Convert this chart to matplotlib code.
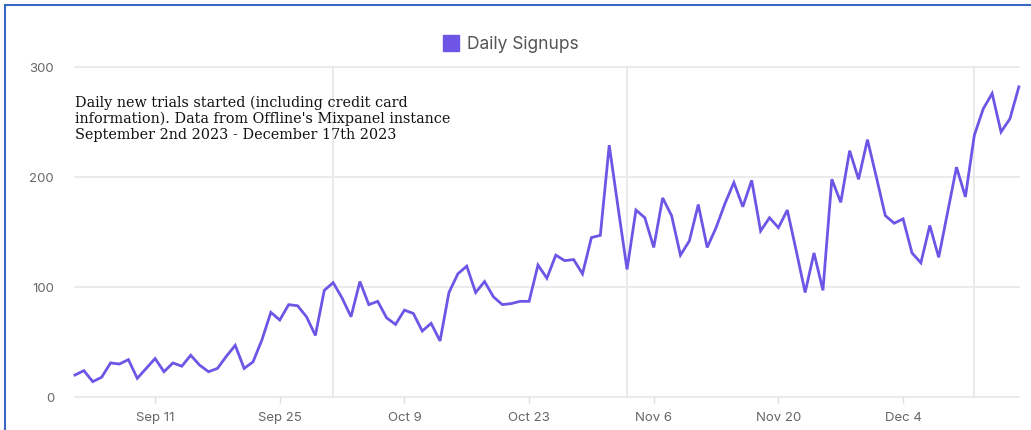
import numpy as np
import pandas as pd
import matplotlib
matplotlib.use("Agg")
import matplotlib.pyplot as plt
from matplotlib.lines import Line2D
from matplotlib.patches import Rectangle

# daily signups, Sep 2 - Dec 17 2023
sep = [20, 24, 14, 18, 31, 30, 34, 17, 26, 35, 23, 31, 28, 38, 29, 23, 26, 37, 47, 26,
       32, 52, 77, 70, 84, 83, 73, 56, 97]
octo = [104, 90, 73, 105, 84, 87, 72, 66, 79, 76, 60, 67, 51, 95, 112, 119, 95, 105, 91, 84,
        85, 87, 87, 120, 108, 129, 124, 125, 112, 145, 147]
nov = [229, 172, 116, 170, 163, 136, 181, 165, 129, 142, 175, 136, 154, 176, 195, 173, 197, 151,
       163, 154, 170, 133, 95, 131, 97, 198, 177, 224, 198, 234]
dec = [200, 165, 158, 162, 131, 122, 156, 127, 168, 209, 182, 238, 262, 276, 241, 253, 282]

signups = sep + octo + nov + dec
days = pd.date_range("2023-09-02", periods=len(signups), freq="D")
tick_days = pd.date_range("2023-09-11", "2023-12-04", freq="14D")
marker_days = pd.to_datetime(["2023-10-01", "2023-11-03", "2023-12-12"])
y_ticks = [0, 100, 200, 300]

note = ("Daily new trials started (including credit card\n"
        "information). Data from Offline's Mixpanel instance\n"
        "September 2nd 2023 - December 17th 2023")

purple = "#6f55e6"
grid_c = "#e8e8e8"
label_c = "#666666"

plt.rcParams["font.family"] = ["Inter", "DejaVu Sans"]

fig = plt.figure(figsize=(10.31, 4.30), dpi=100)
ax = fig.add_axes([0.0727, 0.0767, 0.9155, 0.7673])

for d in marker_days:
    ax.axvline(d, color=grid_c, lw=1.3, zorder=1)
for v in y_ticks:
    ax.axhline(v, color=grid_c, lw=1.2, zorder=1, clip_on=False)

ax.plot(days, signups, color=purple, lw=2.0, zorder=3, clip_on=False,
        solid_joinstyle="miter")

ax.set_xlim(days[0], days[-1])
ax.set_ylim(0, 300)
ax.set_yticks(y_ticks)
ax.set_yticklabels([str(v) for v in y_ticks])
ax.set_xticks(tick_days)
ax.set_xticklabels([f"{d:%b} {d.day}" for d in tick_days])
ax.tick_params(axis="y", length=0, pad=15, labelsize=9.5, labelcolor=label_c)
ax.tick_params(axis="x", length=4, width=1, color="#dddddd", pad=7,
               labelsize=9.5, labelcolor=label_c)
for s in ax.spines.values():
    s.set_visible(False)

ax.text(0.0, 0.915, note, transform=ax.transAxes, family="DejaVu Serif",
        fontsize=10.4, va="top", ha="left", color="#111111", linespacing=1.2)

handle = Line2D([], [], marker="s", color="none", markerfacecolor=purple,
                markeredgecolor=purple, markersize=11)
fig.legend([handle], ["Daily Signups"], loc="center", bbox_to_anchor=(0.495, 0.897),
           frameon=False, fontsize=12.5, labelcolor="#555555", handletextpad=0.4,
           handlelength=1.0)

# blue frame of the screenshot
fig.patches.append(Rectangle((5 / 1031, -0.1), 1.2, 1.1 - 5 / 430,
                             transform=fig.transFigure, fill=False,
                             edgecolor="#3a66c4", lw=1.5))

fig.savefig("out.png", dpi=100, facecolor="white")
